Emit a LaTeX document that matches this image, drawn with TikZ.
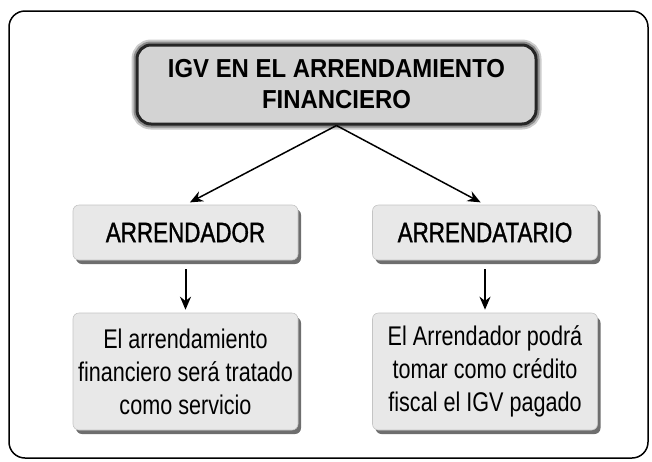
\documentclass[tikz,border=0pt]{standalone}
\usepackage{fontspec}
\setmainfont{Liberation Sans}
\newfontfamily\narrowfont[FakeStretch=0.8]{Liberation Sans}
\newfontfamily\headfont[FakeStretch=0.8, FakeBold=1.2]{Liberation Sans}
\newfontfamily\titlefont[FakeStretch=0.92]{Liberation Sans}
\usetikzlibrary{arrows.meta,shadows}

\definecolor{titlegray}{HTML}{D3D3D3}
\definecolor{boxgray}{HTML}{E8E8E8}
\definecolor{edgegray}{HTML}{C4C4C4}
\definecolor{shadegray}{HTML}{6E6E6E}

\tikzset{
  titlebox/.style={fill=titlegray, draw=black!85, line width=3pt, rounded corners=14pt,
    preaction={draw=black!20, line width=11pt},
    preaction={draw=black!45, line width=7pt},
    minimum width=399pt, minimum height=79pt, align=center,
    font=\titlefont\fontsize{26}{31}\selectfont\bfseries},
  headbox/.style={fill=boxgray, draw=edgegray, line width=0.6pt, rounded corners=6pt,
    drop shadow={shadow xshift=3pt, shadow yshift=-4pt, fill=shadegray, opacity=1},
    minimum width=225pt, minimum height=55pt, align=center,
    font=\headfont\fontsize{28}{33}\selectfont},
  textbox/.style={headbox, minimum height=117pt,
    font=\narrowfont\fontsize{27}{33}\selectfont},
  conn/.style={-{Stealth[length=13pt,width=11pt]}, line width=1.5pt}
}

\begin{document}
\begin{tikzpicture}[x=1pt, y=-1pt]
  \useasboundingbox (0,0) rectangle (652,461);

  % Outer frame
  \draw[line width=1.5pt, rounded corners=16pt] (9,11) rectangle (648,458);

  % Title
  \node[titlebox] (igv) at (336.5,84.5) {IGV EN EL ARRENDAMIENTO\\FINANCIERO};

  % Two parties
  \node[headbox] (arrendador) at (185.5,232.5) {ARRENDADOR};
  \node[headbox] (arrendatario) at (485,232.5) {ARRENDATARIO};

  % Treatment of each party
  \node[textbox] (servicio) at (185.5,371.5) {El arrendamiento\\financiero será tratado\\como servicio};
  \node[textbox] (credito) at (485,371.5) {El Arrendador podrá\\tomar como crédito\\fiscal el IGV pagado};

  % Connectors
  \draw[conn, shorten >=5pt] (igv.south) -- (arrendador.north);
  \draw[conn, shorten >=5pt] (igv.south) -- (arrendatario.north);
  \draw[conn, line width=2pt, shorten <=9pt, shorten >=3pt] (arrendador.south) -- (servicio.north);
  \draw[conn, line width=2pt, shorten <=9pt, shorten >=3pt] (arrendatario.south) -- (credito.north);
\end{tikzpicture}
\end{document}
